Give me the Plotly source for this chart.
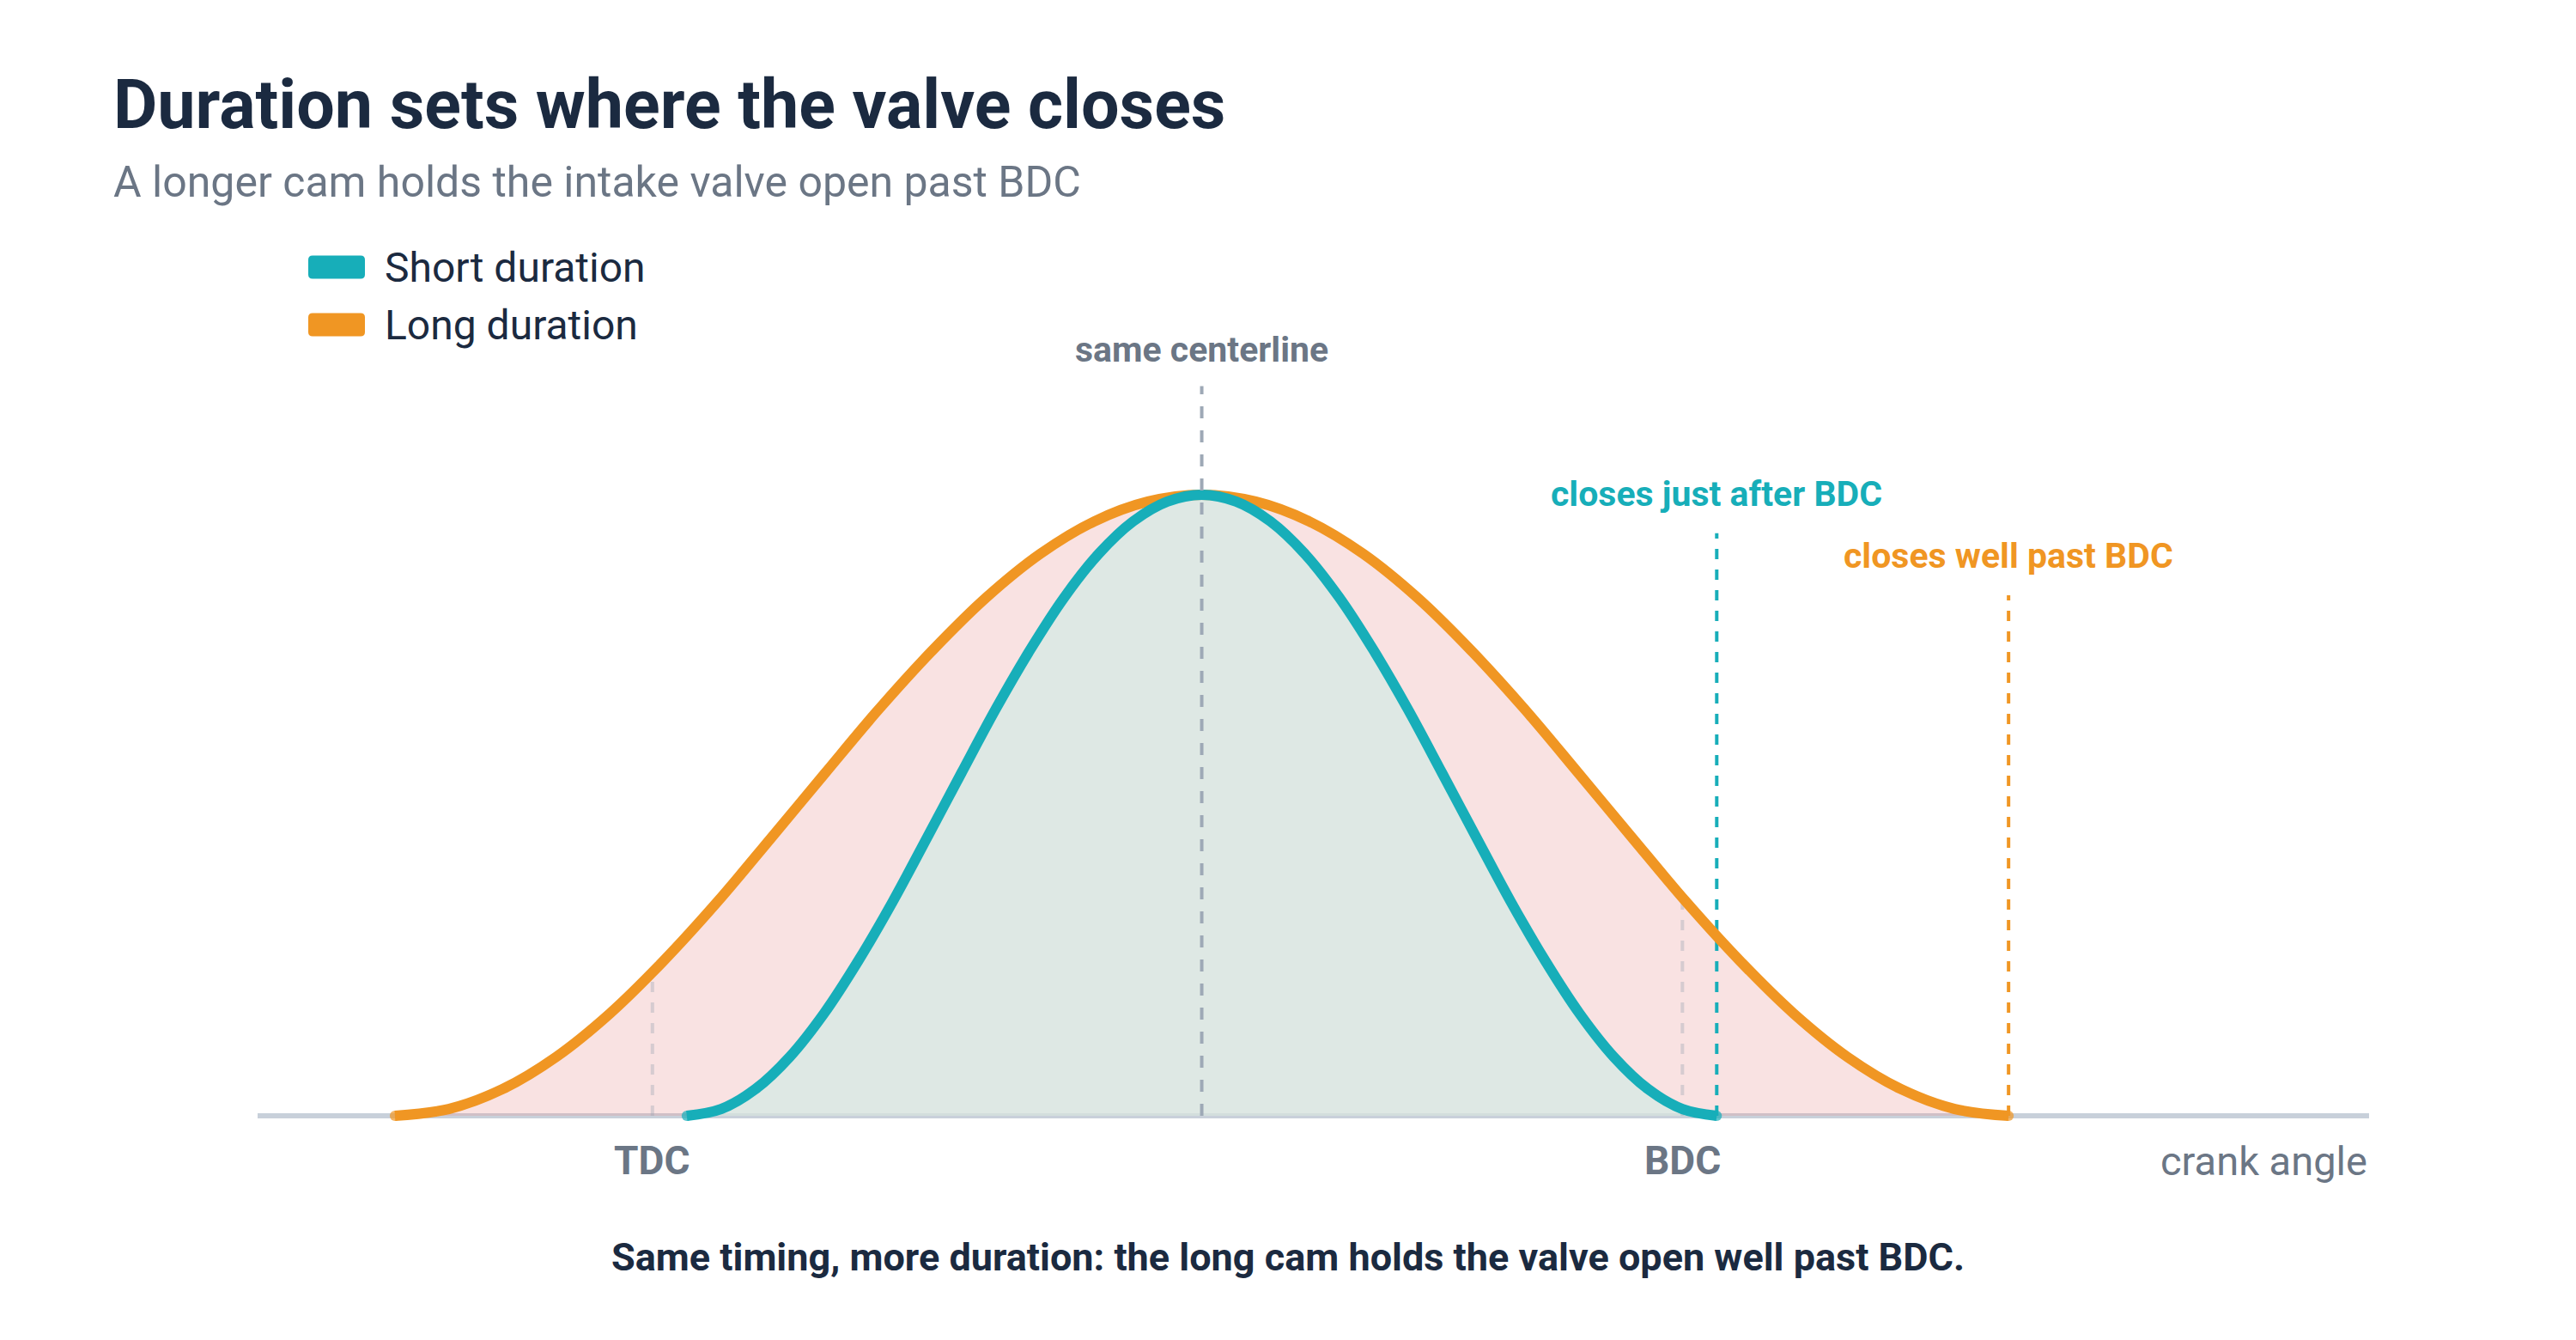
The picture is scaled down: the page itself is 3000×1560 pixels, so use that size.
import plotly.graph_objects as go

# ---------------- data (crank angle in degrees, valve lift in mm) ----------------
long_deg = [-45, -35.6, -26.2, -16.8, -7.4, 2, 11.4, 20.8, 30.2, 39.6, 49, 58.4, 67.8, 77.2, 86.6, 96,
            105.4, 114.8, 124.2, 133.6, 143, 152.4, 161.8, 171.2, 180.6, 190, 199.4, 208.8, 218.2, 227.6, 237]
long_lift = [0, 0.11, 0.43, 0.95, 1.65, 2.50, 3.45, 4.48, 5.52, 6.55, 7.50, 8.35, 9.05, 9.57, 9.89, 10,
             9.89, 9.57, 9.05, 8.35, 7.50, 6.55, 5.52, 4.48, 3.45, 2.50, 1.65, 0.95, 0.43, 0.11, 0]

short_deg = [6, 12, 18, 24, 30, 36, 42, 48, 54, 60, 66, 72, 78, 84, 90, 96,
             102, 108, 114, 120, 126, 132, 138, 144, 150, 156, 162, 168, 174, 180, 186]
short_lift = [0, 0.11, 0.43, 0.95, 1.65, 2.50, 3.45, 4.48, 5.52, 6.55, 7.50, 8.35, 9.05, 9.57, 9.89, 10,
              9.89, 9.57, 9.05, 8.35, 7.50, 6.55, 5.52, 4.48, 3.45, 2.50, 1.65, 0.95, 0.43, 0.11, 0]

dead_centre_labels = ["TDC", "BDC"]
dead_centre_deg = [0, 180]
dead_centre_top = [2.2, 3.5]

centerline_deg = 96
centerline_top = 11.75

close_labels = ["closes just after BDC", "closes well past BDC"]
close_deg = [186, 237]
close_top = [9.38, 8.38]

x_range = [-69, 300]
y_range = [-1.12, 12.71]

TEAL = "#17aeb9"
ORANGE = "#f09623"
NAVY = "#1b2a40"
SLATE = "#6b7685"
FONT = "Roboto"

fig = go.Figure()

# fills
fig.add_trace(go.Scatter(x=long_deg, y=long_lift, mode="none", fill="tozeroy",
                         fillcolor="rgba(232,140,140,0.25)", line=dict(shape="spline"),
                         hoverinfo="skip"))
fig.add_trace(go.Scatter(x=short_deg, y=short_lift, mode="none", fill="tozeroy",
                         fillcolor="rgba(212,234,228,0.74)", line=dict(shape="spline"),
                         hoverinfo="skip"))

# TDC / BDC marker lines
for d, t in zip(dead_centre_deg, dead_centre_top):
    fig.add_trace(go.Scatter(x=[d, d], y=[0, t], mode="lines",
                             line=dict(color="rgba(150,160,175,0.35)", width=4, dash="12px,12px"),
                             hoverinfo="skip"))

# closing lines
for d, t, c in zip(close_deg, close_top, [TEAL, ORANGE]):
    fig.add_trace(go.Scatter(x=[d, d], y=[0, t], mode="lines",
                             line=dict(color=c, width=4, dash="12px,12px"),
                             hoverinfo="skip"))

# curves
def end_sizes(n, s):
    return [s] + [0] * (n - 2) + [s]

fig.add_trace(go.Scatter(x=long_deg, y=long_lift, mode="lines+markers", name="Long duration",
                         line=dict(color=ORANGE, width=12, shape="spline"),
                         marker=dict(color=ORANGE, size=end_sizes(len(long_deg), 12), line=dict(width=0)),
                         hoverinfo="skip"))
fig.add_trace(go.Scatter(x=short_deg, y=short_lift, mode="lines+markers", name="Short duration",
                         line=dict(color=TEAL, width=12, shape="spline"),
                         marker=dict(color=TEAL, size=end_sizes(len(short_deg), 12), line=dict(width=0)),
                         hoverinfo="skip"))

# centerline on top
fig.add_trace(go.Scatter(x=[centerline_deg, centerline_deg], y=[0, centerline_top], mode="lines",
                         line=dict(color="#9ea9b6", width=4, dash="14px,14px"), hoverinfo="skip"))

ann = []
# title / subtitle
ann.append(dict(text="Duration sets where the valve closes", xref="paper", yref="paper",
                x=-0.0691, y=1.258, xanchor="left", yanchor="middle", showarrow=False,
                font=dict(family=FONT, size=79, color=NAVY, weight=700)))
ann.append(dict(text="A longer cam holds the intake valve open past BDC", xref="paper", yref="paper",
                x=-0.0691, y=1.168, xanchor="left", yanchor="middle", showarrow=False,
                font=dict(family=FONT, size=50, color=SLATE)))
# legend text
for label, yp in [("Short duration", 1.069), ("Long duration", 1.002)]:
    ann.append(dict(text=label, xref="paper", yref="paper", x=(446 - 300) / 2459, y=yp,
                    xanchor="left", yanchor="middle", showarrow=False,
                    font=dict(family=FONT, size=48, color=NAVY)))

# centerline label
ann.append(dict(text="same centerline", x=centerline_deg, y=centerline_top, xref="x", yref="y",
                yanchor="middle", yshift=42, showarrow=False,
                font=dict(family=FONT, size=41, color=SLATE, weight=700)))
for lab, d, t, c in zip(close_labels, close_deg, close_top, [TEAL, ORANGE]):
    ann.append(dict(text=lab, x=d, y=t, xref="x", yref="y", yanchor="middle", yshift=46,
                    showarrow=False, font=dict(family=FONT, size=41, color=c, weight=700)))
for lab, d in zip(dead_centre_labels, dead_centre_deg):
    ann.append(dict(text=lab, x=d, y=0, xref="x", yref="y", yanchor="middle", yshift=-52,
                    showarrow=False, font=dict(family=FONT, size=46, color=SLATE, weight=700)))
ann.append(dict(text="crank angle", x=x_range[1], y=0, xref="x", yref="y", xanchor="right",
                yanchor="middle", yshift=-52, showarrow=False,
                font=dict(family=FONT, size=47, color=SLATE)))
# caption
ann.append(dict(text="Same timing, more duration: the long cam holds the valve open well past BDC.",
                xref="paper", yref="paper", x=(1500 - 300) / 2459, y=-0.083, xanchor="center",
                yanchor="middle", showarrow=False,
                font=dict(family=FONT, size=45, color=NAVY, weight=700)))

# legend swatches (rounded rects, pixel sized)
shapes = []
def rrect(w, h, r):
    x0, x1, y0, y1 = -w / 2, w / 2, -h / 2, h / 2
    return (f"M{x0 + r},{y0} L{x1 - r},{y0} Q{x1},{y0} {x1},{y0 + r} L{x1},{y1 - r} "
            f"Q{x1},{y1} {x1 - r},{y1} L{x0 + r},{y1} Q{x0},{y1} {x0},{y1 - r} "
            f"L{x0},{y0 + r} Q{x0},{y0} {x0 + r},{y0} Z")
for col, yp in [(TEAL, 1.069), (ORANGE, 1.002)]:
    shapes.append(dict(type="path", xref="paper", yref="paper", xsizemode="pixel", ysizemode="pixel",
                       xanchor=(392 - 300) / 2459, yanchor=yp, path=rrect(66, 27, 5),
                       fillcolor=col, line=dict(width=0)))

fig.update_layout(
    width=3000, height=1560,
    margin=dict(l=300, r=241, t=380, b=180),
    paper_bgcolor="white", plot_bgcolor="white",
    showlegend=False,
    xaxis=dict(range=x_range, showgrid=False, showticklabels=False, zeroline=False,
               showline=False, ticks=""),
    yaxis=dict(range=y_range, showgrid=False, showticklabels=False, zeroline=True,
               zerolinecolor="#c8d0da", zerolinewidth=6, showline=False, ticks=""),
    annotations=ann, shapes=shapes,
    font=dict(family=FONT),
)

fig.write_html("out.html")
